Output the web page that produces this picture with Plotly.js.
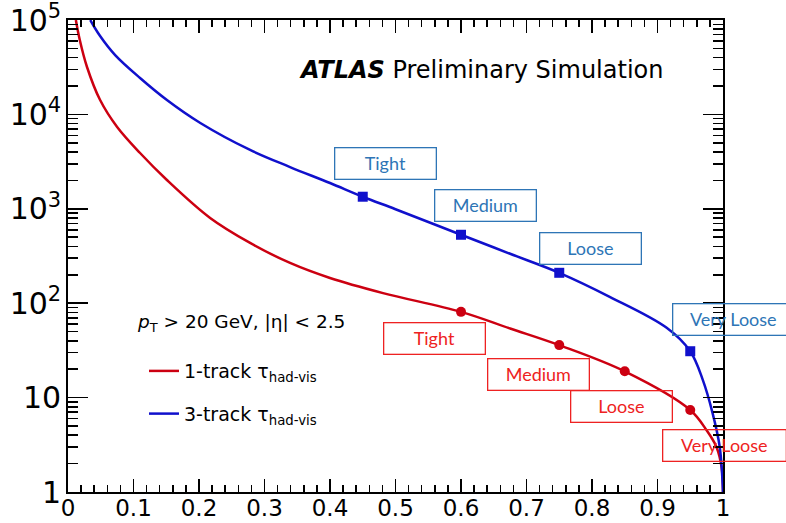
<!DOCTYPE html>
<html>
<head>
<meta charset="utf-8">
<script src="https://cdn.plot.ly/plotly-3.0.1.min.js"></script>
<style>html,body{margin:0;padding:0;background:#fff;}#chart{width:786px;height:523px;}</style>
</head>
<body>
<div id="chart"></div>
<script>
// 1-track tau: signal efficiency vs background rejection
const eff1 = [0.012,0.018,0.029,0.049,0.075,0.11,0.151,0.217,0.278,0.339,0.4,0.481,0.6,0.675,0.75,0.85,0.95,0.975,0.99,0.998,1.0];
const rej1 = [100000,61400,31800,14200,7360,3900,2018,800,435,267,185,128,81,54,36,19,7.4,4.5,3.0,1.8,1.0];
// 3-track tau
const eff3 = [0.034,0.049,0.072,0.11,0.151,0.202,0.278,0.339,0.4,0.45,0.5,0.6,0.675,0.75,0.827,0.914,0.95,0.969,0.984,0.995,1.0];
const rej3 = [100000,67700,42500,24300,14200,8110,4200,2770,1877,1343,990,531,334,210,117,55,31,15.5,6.9,3.0,1.0];
// working points
const wpNames = ["Tight","Medium","Loose","Very Loose"];
const wp1Eff = [0.6,0.75,0.85,0.95];
const wp1Rej = [81,36,19,7.4];
const wp3Eff = [0.45,0.6,0.75,0.95];
const wp3Rej = [1343,531,210,31];
const xTickLabels = ["0","0.1","0.2","0.3","0.4","0.5","0.6","0.7","0.8","0.9","1"];
const xTickVals = [0,0.1,0.2,0.3,0.4,0.5,0.6,0.7,0.8,0.9,1];

const RED = '#cc0011', BLUE = '#1010cc';
const BOXRED = '#ee2222', BOXBLUE = '#2e75b6';
const F = 'DejaVu Sans, Liberation Sans, sans-serif';

// label box placement (paper coords), style only
const box3Pos = [[0.484,0.695,'center',100],[0.638,0.608,'center',100],[0.797,0.516,'center',100],[0.922,0.3665,'left',120]];
const box1Pos = [[0.560,0.325,'center',100],[0.719,0.250,'center',100],[0.845,0.182,'center',100],[0.907,0.0985,'left',122]];

const traces = [
  {x: eff1, y: rej1, mode:'lines', line:{color:RED, width:2.5, shape:'spline', smoothing:1},
   name:'1-track τ<sub>had-vis</sub>', legendgroup:'a', hoverinfo:'skip'},
  {x: eff3, y: rej3, mode:'lines', line:{color:BLUE, width:2.5, shape:'spline', smoothing:1},
   name:'3-track τ<sub>had-vis</sub>', legendgroup:'b', hoverinfo:'skip'},
  {x: wp1Eff, y: wp1Rej, mode:'markers', marker:{symbol:'circle', size:10, color:RED},
   showlegend:false, text: wpNames, hoverinfo:'skip'},
  {x: wp3Eff, y: wp3Rej, mode:'markers', marker:{symbol:'square', size:10, color:BLUE},
   showlegend:false, text: wpNames, hoverinfo:'skip'}
];

const annotations = [
  {xref:'paper', yref:'paper', x:0.3496, y:0.894, xanchor:'left', yanchor:'middle', showarrow:false,
   text:'<b><i>ATLAS</i></b> Preliminary Simulation', font:{family:F, size:24, color:'#000'}},
  {xref:'paper', yref:'paper', x:0.1023, y:0.358, xanchor:'left', yanchor:'middle', showarrow:false,
   text:'<i>p</i><sub>T</sub> &gt; 20 GeV, |η| &lt; 2.5', font:{family:F, size:18.5, color:'#000'}}
];
wpNames.forEach((n,i)=>{
  const b = box3Pos[i];
  annotations.push({xref:'paper', yref:'paper', x:b[0], y:b[1], xanchor:b[2], yanchor:'middle', showarrow:false,
    text:n, width:b[3], height:30, borderpad:0, borderwidth:1.3, bordercolor:BOXBLUE, align:'center',
    font:{family:'Lato, Open Sans, sans-serif', size:18, color:BOXBLUE}});
  const c = box1Pos[i];
  annotations.push({xref:'paper', yref:'paper', x:c[0], y:c[1], xanchor:c[2], yanchor:'middle', showarrow:false,
    text:n, width:c[3], height:30, borderpad:0, borderwidth:1.3, bordercolor:BOXRED, align:'center',
    font:{family:'Lato, Open Sans, sans-serif', size:18, color:BOXRED}});
});

const layout = {
  width:786, height:523,
  margin:{l:68, r:63, t:20, b:31, pad:0},
  paper_bgcolor:'#fff', plot_bgcolor:'#fff',
  showlegend:true,
  legend:{x:0.116, y:0.2965, xanchor:'left', yanchor:'top', bgcolor:'rgba(0,0,0,0)',
          font:{family:F, size:19, color:'#000'}, traceorder:'grouped', tracegroupgap:15},
  xaxis:{range:[0,1], tickmode:'array', tickvals:xTickVals, ticktext:xTickLabels,
         ticks:'inside', ticklen:13, tickwidth:1.5, tickcolor:'#000',
         showline:true, linecolor:'#000', linewidth:2, mirror:'allticks',
         showgrid:false, zeroline:false, ticklabelstandoff:-6, ticklabeloverflow:'allow',
         minor:{tickmode:'linear', tick0:0, dtick:0.02, ticks:'inside', ticklen:7, tickwidth:1.5, tickcolor:'#000', showgrid:false},
         tickfont:{family:F, size:23, color:'#000'}},
  yaxis:{type:'log', range:[0,5.0002], dtick:1, exponentformat:'power',
         ticks:'inside', ticklen:20, tickwidth:1.5, tickcolor:'#000',
         showline:true, linecolor:'#000', linewidth:2, mirror:'allticks',
         showgrid:false, zeroline:false, ticklabeloverflow:'allow',
         minor:{dtick:'D1', ticks:'inside', ticklen:10, tickwidth:1.5, tickcolor:'#000', showgrid:false},
         tickfont:{family:F, size:24, color:'#000'}},
  annotations: annotations
};

Plotly.newPlot('chart', traces, layout, {staticPlot:true, displayModeBar:false});
</script>
</body>
</html>
